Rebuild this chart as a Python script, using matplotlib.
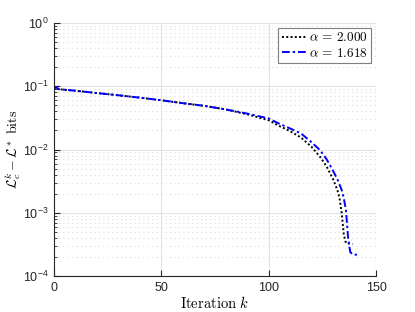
import matplotlib
matplotlib.use("Agg")
import matplotlib.pyplot as plt
from matplotlib.ticker import LogLocator, NullFormatter, FixedLocator

plt.rcParams['font.family'] = ['Liberation Sans', 'DejaVu Sans']
plt.rcParams['mathtext.fontset'] = 'custom'
plt.rcParams['mathtext.rm'] = 'Liberation Sans'
plt.rcParams['mathtext.it'] = 'Liberation Sans:italic'

# alpha = 2.000 (black dotted)
k_a = [0, 1, 2, 5, 10, 20, 30, 40, 50, 60, 70, 80, 90, 100, 105, 110, 115,
       120, 124, 127, 130, 132, 133, 134, 135, 136, 139]
loss_a = [0.091, 0.098, 0.090, 0.088, 0.085, 0.078, 0.072, 0.066, 0.060,
          0.054, 0.049, 0.043, 0.036, 0.029, 0.0235, 0.0195, 0.0155, 0.0110,
          0.0076, 0.0054, 0.0034, 0.0023, 0.0017, 0.0010, 0.00045, 0.00033,
          0.00032]

# alpha = 1.618 (blue dash-dot)
k_b = [0, 1, 2, 5, 10, 20, 30, 40, 50, 60, 70, 80, 90, 100, 105, 110, 115,
       120, 124, 127, 130, 132, 134, 135, 136, 137, 138, 139, 142]
loss_b = [0.091, 0.098, 0.090, 0.088, 0.085, 0.078, 0.072, 0.066, 0.060,
          0.054, 0.049, 0.043, 0.037, 0.031, 0.0255, 0.0215, 0.0180, 0.0130,
          0.0097, 0.0070, 0.0046, 0.0034, 0.0023, 0.0017, 0.0011, 0.0004,
          0.00024, 0.00022, 0.000215]

labels = [r'$\alpha\,=\,2.000$', r'$\alpha\,=\,1.618$']
x_ticks = [0, 50, 100, 150]

fig = plt.figure(figsize=(4.15, 3.12), dpi=100)
ax = fig.add_axes([54/415, 1-276/312, (376-54)/415, (276-23)/312])

ax.plot(k_a, loss_a, color='black', linestyle=(0, (1, 1.2)), linewidth=1.4, label=labels[0])
ax.plot(k_b, loss_b, color='blue', linestyle=(0, (4, 1.5, 1.2, 1.5)), linewidth=1.4, label=labels[1])

ax.set_yscale('log')
ax.set_xlim(0, 150)
ax.set_ylim(1e-4, 1)
ax.xaxis.set_major_locator(FixedLocator(x_ticks))
ax.yaxis.set_major_locator(LogLocator(base=10, numticks=10))
ax.yaxis.set_minor_locator(LogLocator(base=10, subs=range(2, 10), numticks=20))
ax.yaxis.set_minor_formatter(NullFormatter())

ax.grid(True, which='major', axis='both', color='#e3e3e3', linewidth=0.8, linestyle='-')
ax.grid(True, which='minor', axis='y', color='#dcdcdc', linewidth=0.8, linestyle=(0, (1, 3)))
ax.set_axisbelow(True)

for s in ['top', 'right']:
    ax.spines[s].set_visible(False)
for s in ['left', 'bottom']:
    ax.spines[s].set_color('#262626')
    ax.spines[s].set_linewidth(0.8)

ax.tick_params(which='both', direction='in', labelsize=9, colors='#262626')
ax.tick_params(which='major', length=4, pad=4)
ax.tick_params(which='minor', length=2)

ax.set_xlabel(r'$\mathrm{Iteration}\ k$', fontsize=10.5, math_fontfamily='cm', labelpad=1)
ax.set_ylabel(r'$\mathcal{L}_c^k - \mathcal{L}^*\ \mathrm{bits}$', fontsize=10,
              math_fontfamily='cm')
ax.yaxis.set_label_coords(-0.097, 0.5)

leg = ax.legend(loc='upper right', bbox_to_anchor=(0.985, 0.98), fontsize=9.5,
                fancybox=False, framealpha=1, edgecolor='#7f7f7f',
                handlelength=1.9, handletextpad=0.2, borderpad=0.25, labelspacing=0.2,
                borderaxespad=0)
leg.get_frame().set_linewidth(0.8)
for t in leg.get_texts():
    t.set_math_fontfamily('cm')

fig.savefig('out.png', dpi=100)
